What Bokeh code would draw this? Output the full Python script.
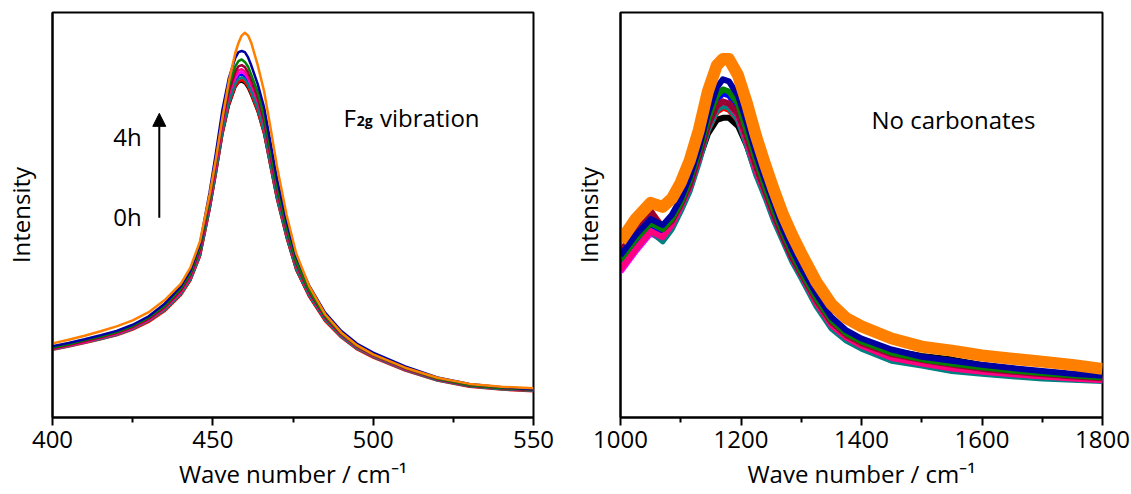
from bokeh.plotting import figure
from bokeh.layouts import row
from bokeh.models import Range1d, FixedTicker, Label, Arrow, NormalHead
from bokeh.embed import file_html
from bokeh.resources import INLINE

FONT = "Open Sans"

# ---------------- Data: F2g band (left panel) ----------------
wn_left = [400, 405, 410, 415, 420, 425, 430, 435, 440, 443, 446, 449, 451, 453, 455,
           457, 458, 459, 460, 461, 462, 464, 466, 468, 470, 473, 476, 480, 485, 490,
           495, 500, 510, 520, 530, 540, 550]

left_black = [17.0, 17.8, 18.7, 19.6, 20.6, 22.0, 23.9, 26.6, 30.4, 34.0, 40.0, 51.5, 60.5, 70.0, 77.0,
              81.5, 82.7, 83.0, 82.5, 81.3, 79.5, 75.5, 70.0, 62.0, 54.0, 44.5, 36.5, 30.0, 24.0, 20.0,
              17.0, 15.0, 11.8, 9.3, 7.8, 7.1, 6.7]
left_red = [16.7, 17.5, 18.4, 19.3, 20.3, 21.7, 23.6, 26.3, 30.2, 33.8, 39.8, 51.5, 60.6, 70.1, 77.2,
            81.7, 82.9, 83.4, 82.8, 81.6, 79.8, 75.6, 70.1, 62.1, 54.1, 44.5, 36.5, 29.9, 23.8, 19.8,
            16.8, 14.8, 11.6, 9.1, 7.6, 6.9, 6.5]
left_blue = [17.1, 17.9, 18.8, 19.7, 20.8, 22.2, 24.2, 26.9, 30.8, 34.5, 40.6, 52.4, 61.6, 71.4, 78.5,
             83.1, 84.4, 84.7, 84.2, 83.0, 81.1, 77.0, 71.4, 63.2, 55.0, 45.3, 37.1, 30.5, 24.3, 20.3,
             17.2, 15.2, 11.9, 9.4, 7.9, 7.2, 6.8]
left_magenta = [17.1, 17.9, 18.9, 19.8, 20.8, 22.3, 24.3, 27.0, 31.0, 34.7, 40.9, 52.8, 62.0, 71.8, 79.1,
                83.7, 85.0, 85.3, 84.8, 83.6, 81.7, 77.5, 71.8, 63.6, 55.4, 45.6, 37.4, 30.6, 24.5, 20.4,
                17.3, 15.2, 12.0, 9.4, 7.9, 7.2, 6.8]
left_teal = [16.8, 17.6, 18.5, 19.4, 20.4, 21.9, 23.9, 26.6, 30.5, 34.1, 40.2, 51.9, 61.0, 70.7, 77.8,
             82.4, 83.6, 84.0, 83.5, 82.3, 80.4, 76.3, 70.7, 62.6, 54.5, 44.9, 36.8, 30.2, 24.1, 20.0,
             17.0, 15.0, 11.7, 9.2, 7.7, 7.0, 6.6]
left_pink = [16.9, 17.7, 18.6, 19.6, 20.6, 22.1, 24.1, 27.0, 30.9, 34.7, 40.9, 53.0, 62.3, 72.4, 79.7,
             84.4, 85.7, 86.0, 85.5, 84.2, 82.4, 78.1, 72.4, 64.1, 55.8, 45.9, 37.6, 30.8, 24.6, 20.4,
             17.3, 15.2, 11.9, 9.4, 7.9, 7.2, 6.8]
left_wine = [17.1, 17.9, 18.9, 19.8, 20.9, 22.4, 24.4, 27.3, 31.4, 35.2, 41.5, 53.7, 63.1, 73.2, 80.6,
             85.4, 86.7, 87.0, 86.5, 85.2, 83.3, 79.0, 73.2, 64.8, 56.4, 46.4, 38.0, 31.1, 24.8, 20.6,
             17.5, 15.4, 12.1, 9.5, 7.9, 7.2, 6.8]
left_green = [17.3, 18.1, 19.1, 20.0, 21.1, 22.6, 24.7, 27.6, 31.8, 35.6, 42.1, 54.5, 64.1, 74.3, 81.9,
              86.7, 88.0, 88.4, 87.8, 86.6, 84.6, 80.3, 74.3, 65.8, 57.2, 47.0, 38.5, 31.5, 25.1, 20.8,
              17.6, 15.5, 12.2, 9.6, 8.0, 7.3, 6.9]
left_navy = [17.6, 18.4, 19.3, 20.3, 21.4, 22.9, 25.0, 28.1, 32.4, 36.3, 42.9, 55.6, 65.5, 76.0, 83.8,
             88.8, 90.2, 90.5, 90.2, 88.9, 86.9, 82.3, 76.5, 67.8, 59.0, 48.5, 39.8, 32.6, 25.9, 21.4,
             18.2, 16.0, 12.6, 9.9, 8.3, 7.5, 7.0]
left_orange = [18.3, 19.2, 20.2, 21.3, 22.5, 24.0, 26.0, 29.0, 33.0, 37.0, 43.5, 55.0, 64.0, 74.0, 83.0,
               90.0, 92.5, 94.3, 95.0, 94.3, 92.5, 87.0, 80.5, 71.5, 62.0, 50.0, 40.5, 32.5, 25.5, 21.0,
               17.8, 15.6, 12.3, 9.8, 8.3, 7.6, 7.2]

# ---------------- Data: carbonate region (right panel) ----------------
wn_right = [1000, 1025, 1050, 1070, 1085, 1100, 1115, 1130, 1145, 1160, 1170, 1180, 1195, 1210, 1225,
            1240, 1255, 1270, 1285, 1300, 1325, 1350, 1375, 1400, 1450, 1500, 1550, 1600, 1650, 1700,
            1750, 1800]

right_black = [39.5, 44.5, 49.0, 46.5, 48.0, 51.5, 56.5, 63.5, 70.0, 73.5, 74.0, 74.0, 72.0, 67.0, 60.5,
               55.0, 49.5, 44.5, 39.5, 35.5, 29.5, 24.0, 21.0, 19.0, 16.5, 15.2, 14.3, 13.0, 12.0, 11.2,
               10.6, 10.0]
right_red = [41.0, 46.0, 51.0, 47.0, 48.5, 52.0, 57.0, 64.0, 71.0, 75.5, 76.5, 76.0, 73.5, 68.0, 61.0,
             55.0, 49.5, 44.0, 39.0, 35.0, 28.5, 23.0, 19.8, 17.8, 15.2, 13.8, 12.7, 11.7, 11.0, 10.4,
             9.9, 9.5]
right_blue = [38.0, 43.0, 47.0, 45.0, 48.0, 52.0, 57.5, 64.5, 72.5, 78.5, 80.0, 79.5, 76.5, 69.5, 62.5,
              56.0, 50.0, 44.5, 39.5, 35.3, 28.8, 23.3, 20.2, 18.2, 15.5, 14.0, 12.8, 12.0, 11.3, 10.6,
              10.1, 9.6]
right_magenta = [36.0, 41.0, 45.5, 44.0, 47.0, 51.5, 56.5, 63.5, 71.5, 76.5, 77.5, 77.0, 74.0, 67.5, 60.5,
                 55.0, 49.0, 44.0, 39.0, 35.0, 28.0, 22.5, 19.5, 17.5, 14.5, 13.2, 12.0, 11.2, 10.6, 10.0,
                 9.6, 9.2]
right_teal = [37.0, 41.5, 46.0, 43.5, 46.5, 51.0, 56.0, 63.0, 71.0, 76.0, 77.0, 76.5, 73.5, 67.0, 60.0,
              54.5, 48.5, 43.5, 38.5, 34.5, 27.5, 22.0, 19.0, 17.0, 14.0, 12.8, 11.5, 10.8, 10.2, 9.6,
              9.3, 9.0]
right_pink = [36.5, 41.5, 46.0, 44.5, 47.5, 52.0, 57.0, 64.0, 72.0, 77.0, 78.0, 77.5, 74.5, 68.0, 61.0,
              55.5, 49.5, 44.3, 39.3, 35.2, 28.3, 22.8, 19.7, 17.7, 14.7, 13.3, 12.1, 11.3, 10.7, 10.1,
              9.6, 9.2]
right_wine = [40.5, 47.0, 51.0, 46.5, 48.5, 52.5, 57.5, 64.5, 72.0, 77.0, 78.0, 77.5, 75.0, 69.0, 62.0,
              56.0, 50.0, 44.5, 39.5, 35.5, 29.0, 23.5, 20.3, 18.3, 15.6, 14.2, 13.0, 12.0, 11.3, 10.7,
              10.1, 9.7]
right_green = [39.0, 44.0, 48.0, 46.5, 49.0, 53.0, 58.5, 65.5, 73.5, 79.5, 81.0, 80.5, 77.5, 70.5, 63.5,
               57.0, 51.0, 45.5, 40.5, 36.0, 29.5, 24.0, 20.8, 18.8, 16.0, 14.4, 13.3, 12.4, 11.6, 11.0,
               10.4, 9.9]
right_navy = [40.0, 45.0, 49.0, 47.5, 50.0, 54.0, 59.5, 66.5, 75.0, 81.5, 83.5, 83.0, 79.5, 72.5, 65.0,
              58.5, 52.5, 46.5, 41.5, 37.0, 30.5, 24.8, 21.5, 19.5, 16.8, 15.0, 14.0, 13.0, 12.2, 11.5,
              10.8, 10.3]
right_orange = [43.5, 49.0, 53.0, 52.0, 54.0, 58.0, 63.5, 71.0, 80.5, 87.0, 88.5, 88.5, 84.5, 77.5, 69.5,
                62.5, 56.0, 50.0, 45.0, 40.5, 33.5, 28.0, 24.5, 22.5, 19.5, 17.5, 16.5, 15.3, 14.5, 13.8,
                13.0, 12.0]

series_colors = ["#000000", "#FF0000", "#0000FF", "#FF00FF", "#008080",
                 "#FF0080", "#990033", "#008000", "#0000A0", "#FF8000"]
left_series = [left_black, left_red, left_blue, left_magenta, left_teal,
               left_pink, left_wine, left_green, left_navy, left_orange]
right_series = [right_black, right_red, right_blue, right_magenta, right_teal,
                right_pink, right_wine, right_green, right_navy, right_orange]

left_ticks = [400, 450, 500, 550]
left_minor = [425, 475, 525]
right_ticks = [1000, 1200, 1400, 1600, 1800]
right_minor = [1100, 1300, 1500, 1700]

X_LABEL = "Wave number / cm\u207b\u00b9"
Y_LABEL = "Intensity"


def make_fig(xr, ticks, minor, border_left, frame_w, border_right):
    p = figure(frame_width=frame_w, frame_height=405,
               min_border_left=border_left, min_border_right=border_right,
               min_border_top=12, min_border_bottom=77,
               x_range=Range1d(*xr), y_range=Range1d(0, 100),
               output_backend="svg", toolbar_location=None,
               background_fill_color="white", border_fill_color="white")
    p.xgrid.visible = False
    p.ygrid.visible = False
    p.outline_line_color = "black"
    p.outline_line_width = 2
    p.outline_line_alpha = 1.0

    xa = p.xaxis[0]
    xa.ticker = FixedTicker(ticks=ticks, minor_ticks=minor)
    xa.axis_line_color = "black"
    xa.axis_line_width = 2
    xa.major_tick_line_color = "black"
    xa.major_tick_line_width = 2
    xa.major_tick_in = 0
    xa.major_tick_out = 8
    xa.minor_tick_line_color = "black"
    xa.minor_tick_line_width = 2
    xa.minor_tick_in = 0
    xa.minor_tick_out = 5
    xa.major_label_text_font = FONT
    xa.major_label_text_font_size = "24px"
    xa.major_label_text_color = "black"
    xa.major_label_standoff = 5
    xa.axis_label = X_LABEL
    xa.axis_label_text_font = FONT
    xa.axis_label_text_font_size = "24px"
    xa.axis_label_text_font_style = "normal"
    xa.axis_label_text_color = "black"
    xa.axis_label_standoff = 6

    ya = p.yaxis[0]
    ya.ticker = FixedTicker(ticks=[])
    ya.axis_line_color = "black"
    ya.axis_line_width = 2
    ya.major_tick_in = 0
    ya.major_tick_out = 0
    ya.minor_tick_in = 0
    ya.minor_tick_out = 0
    ya.major_label_standoff = 0
    ya.axis_label = Y_LABEL
    ya.axis_label_text_font = FONT
    ya.axis_label_text_font_size = "24px"
    ya.axis_label_text_font_style = "normal"
    ya.axis_label_text_color = "black"
    ya.axis_label_standoff = 16
    return p


p1 = make_fig((400, 550), left_ticks, left_minor, 50, 481, 35)
for ys, c in zip(left_series, series_colors):
    p1.line(wn_left, ys, line_color=c, line_width=2.5, line_join="round")

p2 = make_fig((1000, 1800), right_ticks, right_minor, 52, 482, 31)
for ys, c in zip(right_series, series_colors):
    w = 12 if c == "#FF8000" else 6
    p2.line(wn_right, ys, line_color=c, line_width=w, line_join="round")

# annotations (left)
p1.add_layout(Label(x=490.75, y=74.0, text="F", text_font=FONT, text_font_size="24px",
                    text_color="black", text_baseline="alphabetic"))
p1.add_layout(Label(x=494.9, y=73.4, text="2g", text_font=FONT, text_font_size="14px",
                    text_font_style="bold", text_color="black", text_baseline="alphabetic"))
p1.add_layout(Label(x=502.1, y=74.0, text="vibration", text_font=FONT, text_font_size="24px",
                    text_color="black", text_baseline="alphabetic"))
p1.add_layout(Label(x=418.95, y=69.5, text="4h", text_font=FONT, text_font_size="24px",
                    text_color="black", text_baseline="alphabetic"))
p1.add_layout(Label(x=418.95, y=49.6, text="0h", text_font=FONT, text_font_size="24px",
                    text_color="black", text_baseline="alphabetic"))
p1.add_layout(Arrow(end=NormalHead(size=13, fill_color="black", line_color="black"),
                    x_start=433.3, y_start=49.3, x_end=433.3, y_end=75.1,
                    line_color="black", line_width=2))

# annotations (right)
p2.add_layout(Label(x=1416.6, y=73.5, text="No carbonates", text_font=FONT, text_font_size="24px",
                    text_color="black", text_baseline="alphabetic"))

layout = row(p1, p2)
open("out.html", "w").write(file_html(layout, INLINE))
